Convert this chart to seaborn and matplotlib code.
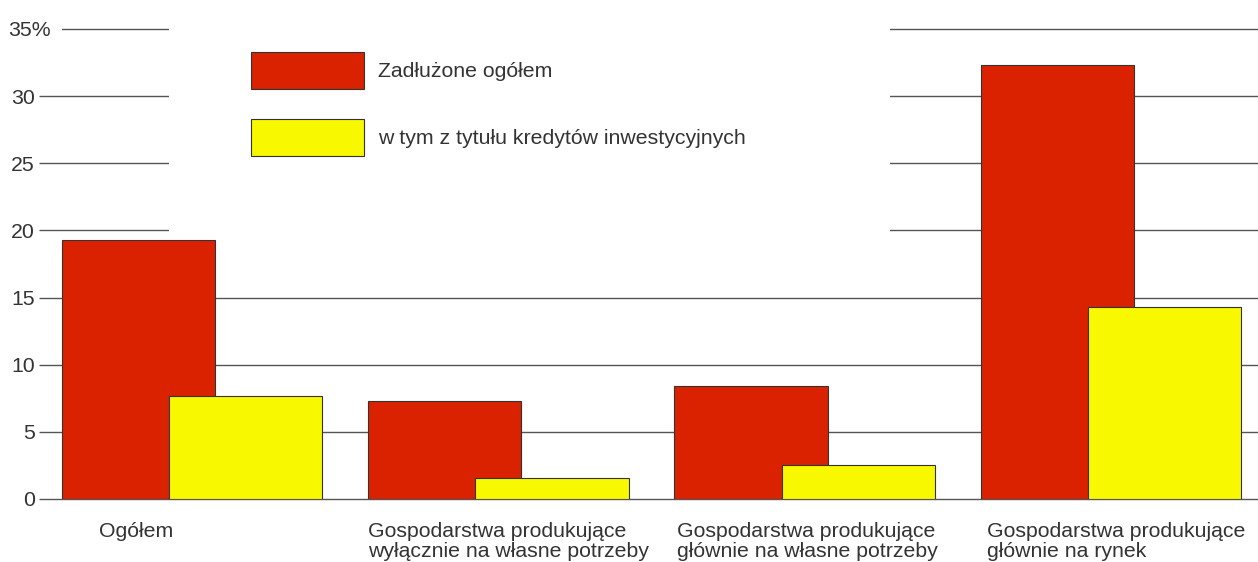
import numpy as np
import pandas as pd
import matplotlib
matplotlib.use("Agg")
import matplotlib.pyplot as plt
import matplotlib.transforms as mtransforms
import seaborn as sns

# ---- data ----
categories = [
    "Ogółem",
    "Gospodarstwa produkujące\nwyłącznie na własne potrzeby",
    "Gospodarstwa produkujące\ngłównie na własne potrzeby",
    "Gospodarstwa produkujące\ngłównie na rynek",
]
zadluzone = [19.3, 7.3, 8.4, 32.3]
inwestycyjne = [7.7, 1.6, 2.5, 14.3]
series_labels = ["Zadłużone ogółem", "w tym z tytułu kredytów inwestycyjnych"]
yticks = [0, 5, 10, 15, 20, 25, 30, 35]
ytick_labels = ["0", "5", "10", "15", "20", "25", "30", "35%"]

RED = "#DA2200"
YELLOW = "#F8F800"
TXT = "#333333"
GRID = "#555555"

sns.set_theme(style="white")
plt.rcParams["font.family"] = ["Liberation Sans", "DejaVu Sans"]

W, H, DPI = 1258, 562, 100
FS = 15.3
fig = plt.figure(figsize=(W / DPI, H / DPI), dpi=DPI)
ax = fig.add_axes([45 / W, (H - 499) / H, 1 - 45 / W, (499 - 29) / H])

pos = np.arange(len(categories))
off = 0.175
df_a = pd.DataFrame({"x": pos - off, "y": zadluzone})
df_b = pd.DataFrame({"x": pos + off, "y": inwestycyjne})

sns.barplot(data=df_a, x="x", y="y", native_scale=True, orient="x", width=0.5,
            color=RED, edgecolor="#333333", linewidth=0.8, saturation=1,
            errorbar=None, ax=ax)
sns.barplot(data=df_b, x="x", y="y", native_scale=True, orient="x", width=0.5,
            color=YELLOW, edgecolor="#333333", linewidth=0.8, saturation=1,
            errorbar=None, ax=ax)

ax.set_xlim(-0.48, 3.48)
ax.set_ylim(0, 35)
ax.set_xlabel("")
ax.set_ylabel("")
for s in ax.spines.values():
    s.set_visible(False)

ax.set_axisbelow(True)
ax.yaxis.grid(True, color=GRID, linewidth=1.0)
ax.xaxis.grid(False)

ax.set_yticks(yticks, ytick_labels)
ax.tick_params(axis="y", left=True, length=4.3, width=1.0, color=GRID,
               pad=3, labelsize=FS, labelcolor=TXT)
for gl in ax.get_ygridlines():
    gl.set_clip_on(False)
lbl35 = ax.get_yticklabels()[-1]
lbl35.set_transform(lbl35.get_transform() +
                    mtransforms.ScaledTranslation(16 / DPI, 0, fig.dpi_scale_trans))
lbl35.set_bbox(dict(boxstyle="square,pad=0.52", facecolor="white", edgecolor="none"))

ax.set_xticks(pos, categories)
ax.tick_params(axis="x", bottom=False, length=0, pad=16.5, labelsize=FS, labelcolor=TXT)
label_shift_px = [-93, -130, -128, -124]
for lab, dx in zip(ax.get_xticklabels(), label_shift_px):
    lab.set_horizontalalignment("left")
    lab.set_multialignment("left")
    lab.set_linespacing(1.1)
    lab.set_transform(lab.get_transform() +
                      mtransforms.ScaledTranslation(dx / DPI, 0, fig.dpi_scale_trans))

fs_px = FS * DPI / 72
hh = (37 / fs_px - 0.245) / 0.65
bpad = 82
handles = [ax.containers[0], ax.containers[1]]
leg = ax.legend(handles, series_labels,
                loc="upper left", mode="expand",
                bbox_to_anchor=((251 - bpad) / W, 0.3, (890 - 251 + bpad) / W,
                                1 + (bpad - 52) / H - 0.3),
                bbox_transform=fig.transFigure, borderaxespad=0,
                borderpad=bpad / fs_px, fontsize=FS,
                handlelength=113 / fs_px, handleheight=hh,
                labelspacing=30 / fs_px, handletextpad=14 / fs_px,
                frameon=True, fancybox=False, framealpha=1,
                facecolor="white", edgecolor="none")
for t in leg.get_texts():
    t.set_color(TXT)

fig.savefig("out.png", dpi=DPI)
